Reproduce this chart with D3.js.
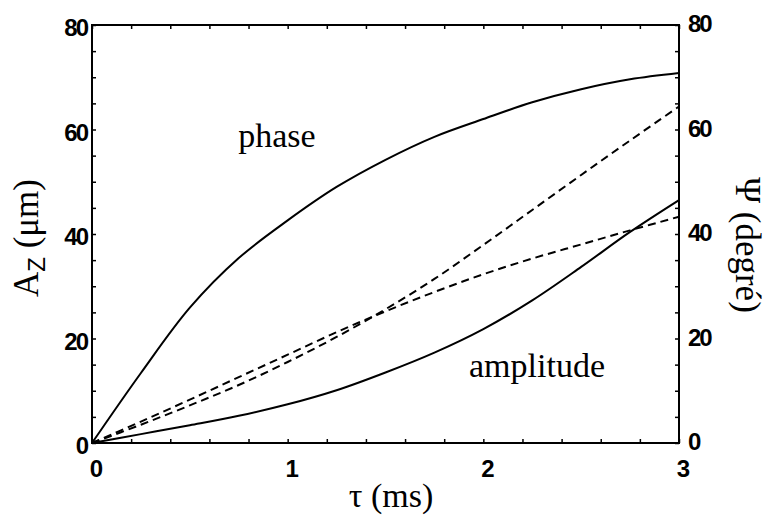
<!DOCTYPE html>
<html><head><meta charset="utf-8">
<script src="https://cdn.jsdelivr.net/npm/d3@7"></script>
<style>body{margin:0;background:#fff}svg{display:block}</style>
</head><body>
<svg id="c" width="766" height="516"></svg>
<script>
// ---- data ----
const tau = [0, 0.25, 0.5, 0.75, 1.0, 1.25, 1.5, 1.75, 2.0, 2.25, 2.5, 2.75, 3.0];
const phaseSolid = [0, 13.4, 25.9, 35.4, 42.6, 49.0, 54.2, 58.6, 62.0, 65.2, 67.7, 69.6, 70.8];
const amplitudeSolid = [0, 1.7, 3.4, 5.2, 7.4, 10.1, 13.5, 17.3, 21.8, 27.3, 33.7, 40.4, 46.5];
const dashedA = [0, 3.5, 7.2, 11.1, 15.5, 20.3, 25.6, 31.4, 37.9, 44.6, 51.3, 57.9, 64.4];
const dashedB = [0, 4.1, 8.3, 12.6, 16.9, 21.2, 25.2, 28.9, 32.3, 35.3, 38.0, 40.7, 43.3];
const xTicks = [0, 1, 2, 3];
const yLeftTicks = [0, 20, 40, 60, 80];
const yRightTicks = [0, 20, 40, 60, 80];

const svg = d3.select("#c");
const L = 92, R = 679, T = 25, B = 443;
const x = d3.scaleLinear().domain([0, 3]).range([L, R]);
const yL = d3.scaleLinear().domain([0, 80]).range([B, T]);
const yR = d3.scaleLinear().domain([0, 80]).range([B, T]);

const tickFont = "'Liberation Sans', Arial, sans-serif";
const serif = "'Liberation Serif', 'DejaVu Serif', 'Times New Roman', serif";

// minor inward ticks
function minor(g){ g.select(".domain").remove(); g.selectAll(".tick line").attr("stroke","#000").attr("stroke-width",1.5); g.selectAll("text").remove(); }
svg.append("g").attr("transform",`translate(0,${B})`).call(d3.axisBottom(x).tickValues(d3.range(0,3.01,0.2)).tickSize(-4)).call(minor);
svg.append("g").attr("transform",`translate(0,${T})`).call(d3.axisTop(x).tickValues(d3.range(0,3.01,0.2)).tickSize(-4)).call(minor);
svg.append("g").attr("transform",`translate(${L},0)`).call(d3.axisLeft(yL).tickValues(d3.range(0,81,5)).tickSize(-4)).call(minor);
svg.append("g").attr("transform",`translate(${R},0)`).call(d3.axisRight(yR).tickValues(d3.range(0,81,5)).tickSize(-4)).call(minor);

// labels
function lab(g){ g.select(".domain").remove(); g.selectAll(".tick line").remove();
  g.selectAll("text").attr("font-family",tickFont).attr("font-size",24).attr("font-weight","bold").attr("fill","#000").attr("letter-spacing","-2"); }
svg.append("g").attr("transform",`translate(3,${B})`).call(d3.axisBottom(x).tickValues(xTicks).tickFormat(d3.format("d")).tickSize(0).tickPadding(17)).call(lab);
svg.append("g").attr("transform",`translate(${L},3)`).call(d3.axisLeft(yL).tickValues(yLeftTicks).tickFormat(d3.format("d")).tickSize(0).tickPadding(5)).call(lab);
svg.append("g").attr("transform",`translate(${R},-1)`).call(d3.axisRight(yR).tickValues(yRightTicks).tickFormat(d3.format("d")).tickSize(0).tickPadding(9)).call(lab);

// frame
svg.append("rect").attr("x",L).attr("y",T).attr("width",R-L).attr("height",B-T)
  .attr("fill","none").attr("stroke","#000").attr("stroke-width",2);

// lines
const line = (vals, ys) => d3.line().x((d,i)=>x(tau[i])).y(d=>ys(d)).curve(d3.curveCatmullRom.alpha(0.5))(vals);
svg.append("path").attr("d",line(phaseSolid,yL)).attr("fill","none").attr("stroke","#000").attr("stroke-width",2);
svg.append("path").attr("d",line(amplitudeSolid,yL)).attr("fill","none").attr("stroke","#000").attr("stroke-width",2);
svg.append("path").attr("d",line(dashedA,yR)).attr("fill","none").attr("stroke","#000").attr("stroke-width",2).attr("stroke-dasharray","8,5");
svg.append("path").attr("d",line(dashedB,yR)).attr("fill","none").attr("stroke","#000").attr("stroke-width",2).attr("stroke-dasharray","8,5");

// annotations
svg.append("text").attr("x",277).attr("y",147).attr("text-anchor","middle").attr("font-family",serif).attr("font-size",34).text("phase");
svg.append("text").attr("x",537).attr("y",377).attr("text-anchor","middle").attr("font-family",serif).attr("font-size",34).text("amplitude");

// axis titles
svg.append("text").attr("x",391).attr("y",507).attr("text-anchor","middle").attr("font-family",serif).attr("font-size",34).text("τ (ms)");
const lt = svg.append("text").attr("transform","translate(38,238) rotate(-90)").attr("text-anchor","middle").attr("font-family",serif).attr("font-size",35);
lt.append("tspan").text("A");
lt.append("tspan").attr("font-size",24).attr("dy",7).attr("font-family",tickFont).text("Z");
lt.append("tspan").attr("dy",-7).text(" (μm)");
const rt = svg.append("text").attr("transform","translate(736,245) rotate(90)").attr("text-anchor","middle").attr("font-family",serif).attr("font-size",35);
rt.append("tspan").text("Ψ");
rt.append("tspan").text(" (degré)");
</script>
</body></html>
